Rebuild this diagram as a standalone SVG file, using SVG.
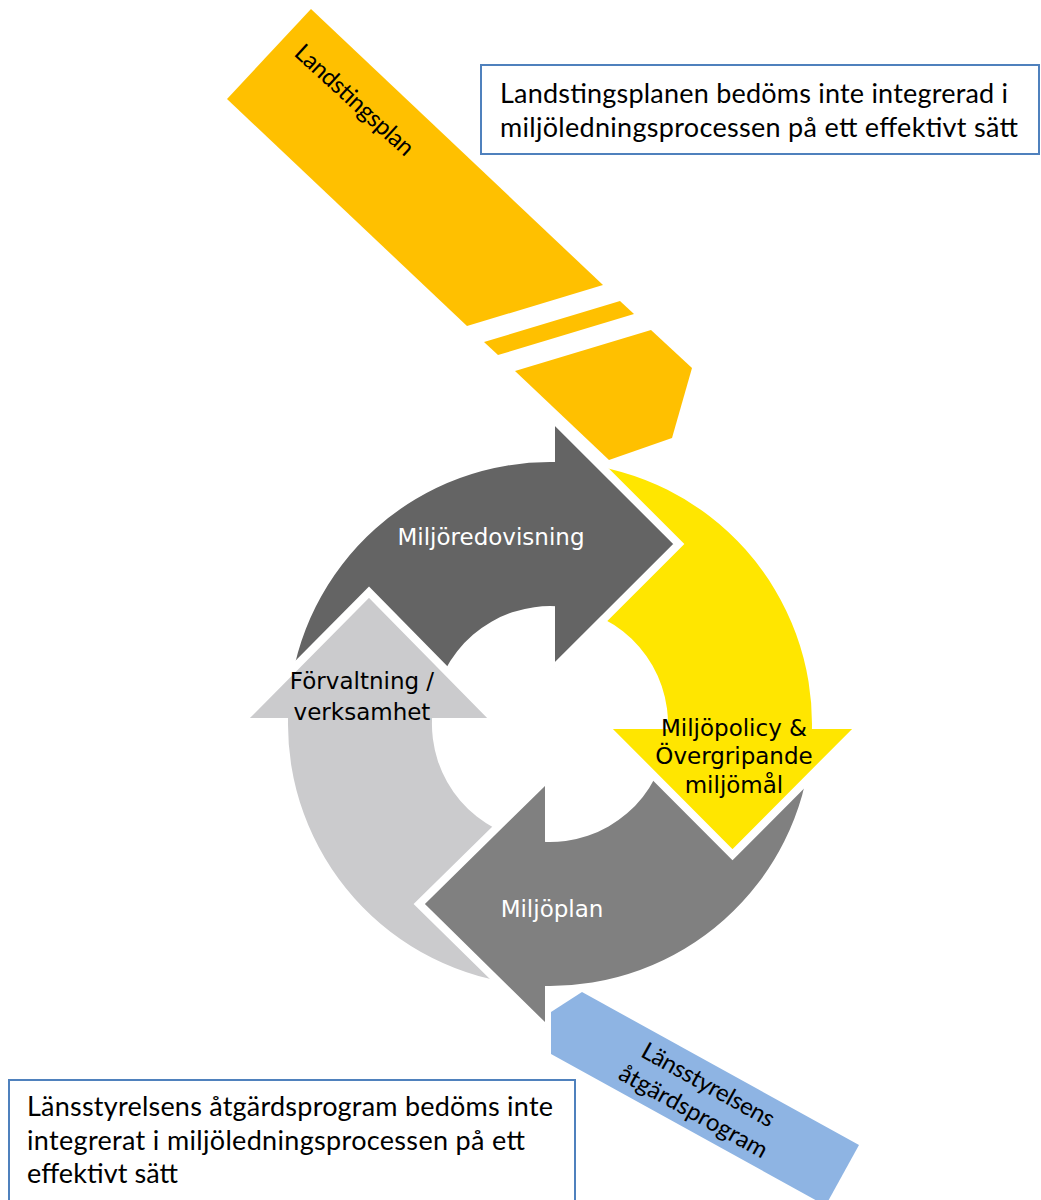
<svg xmlns="http://www.w3.org/2000/svg" width="1041" height="1200" viewBox="0 0 1041 1200">
<style>
.cyc{font-family:"DejaVu Sans","Noto Sans",sans-serif;font-size:23px;text-anchor:middle}
.w{fill:#ffffff}
.k{fill:#000000}
.box{fill:#ffffff;stroke:#4F81BD;stroke-width:2}
.bt{font-family:Lato,"Open Sans",sans-serif;font-size:27px;fill:#000000}
.lbl{font-family:Lato,"Open Sans",sans-serif;font-size:24px;fill:#000000;text-anchor:middle}
.head{stroke:#ffffff;stroke-width:8;stroke-linejoin:miter;stroke-linecap:butt}
</style>
<rect width="1041" height="1200" fill="#ffffff"/>

<g id="landstingsplan">
  <polygon points="311,9 603,285 467,326 227,99" fill="#FFC000"/>
  <polygon points="484,342 620,301 634,314 498,355" fill="#FFC000"/>
  <polygon points="515,371 651,330 692,368 672,438 609,460" fill="#FFC000"/>
  <text class="lbl" transform="translate(349,106) rotate(42.5)" textLength="152">Landstingsplan</text>
</g>

<g id="lansstyrelsen">
  <polygon points="582,992 859,1145 825.6,1205.6 551,1054 551,1012" fill="#8EB4E3"/>
  <g transform="translate(697,1105) rotate(29)">
    <text class="lbl" x="0" y="-15" textLength="148">Länsstyrelsens</text>
    <text class="lbl" x="0" y="15.5" textLength="166">åtgärdsprogram</text>
  </g>
</g>

<g id="cycle">
  <g id="bodies">
    <path d="M 289.0 701.16 A 262 262 0 0 1 557 462.1 L 557 606.3 A 118 118 0 0 0 432.45 713.72 Z" fill="#646464"/>
    <path d="M 572.84 462.99 A 262 262 0 0 1 811.9 731 L 667.8 731 A 118 118 0 0 0 560.28 606.45 Z" fill="#FFE600"/>
    <path d="M 811.0 746.84 A 262 262 0 0 1 543 985.9 L 543 841.8 A 118 118 0 0 0 667.55 734.28 Z" fill="#808080"/>
    <path d="M 527.16 985.0 A 262 262 0 0 1 288.1 716 L 432.2 716 A 118 118 0 0 0 539.72 841.55 Z" fill="#CBCBCD"/>
  </g>
  <g id="miljoredovisning">
    <path class="head" d="M 555 420.3 L 678.7 544 L 555 667.7" fill="#646464"/>
    <text class="cyc w" x="491" y="545">Miljöredovisning</text>
  </g>
  <g id="miljopolicy">
    <path class="head" d="M 857.7 729 L 732.5 854.7 L 607.3 729" fill="#FFE600"/>
    <text class="cyc k" x="734" y="736">Miljöpolicy &amp;</text>
    <text class="cyc k" x="734" y="764">Övergripande</text>
    <text class="cyc k" x="734" y="793">miljömål</text>
  </g>
  <g id="miljoplan">
    <path class="head" d="M 545 780.3 L 419.3 904 L 545 1027.7" fill="#808080"/>
    <text class="cyc w" x="552" y="917">Miljöplan</text>
  </g>
  <g id="forvaltning">
    <path class="head" d="M 244.3 718 L 369 592.3 L 492.7 718" fill="#CBCBCD"/>
    <text class="cyc k" x="362" y="689">Förvaltning /</text>
    <text class="cyc k" x="362" y="720">verksamhet</text>
  </g>
</g>

<g id="note-top">
  <rect class="box" x="481" y="65" width="558" height="89"/>
  <text class="bt" x="500" y="103" textLength="508">Landstingsplanen bedöms inte integrerad i</text>
  <text class="bt" x="500" y="137" textLength="518">miljöledningsprocessen på ett effektivt sätt</text>
</g>

<g id="note-bottom">
  <rect class="box" x="9" y="1080" width="566" height="140"/>
  <text class="bt" x="27" y="1116" textLength="526">Länsstyrelsens åtgärdsprogram bedöms inte</text>
  <text class="bt" x="27" y="1150" textLength="498">integrerat i miljöledningsprocessen på ett</text>
  <text class="bt" x="27" y="1183" textLength="151">effektivt sätt</text>
</g>

<g id="connectors"></g>
</svg>
